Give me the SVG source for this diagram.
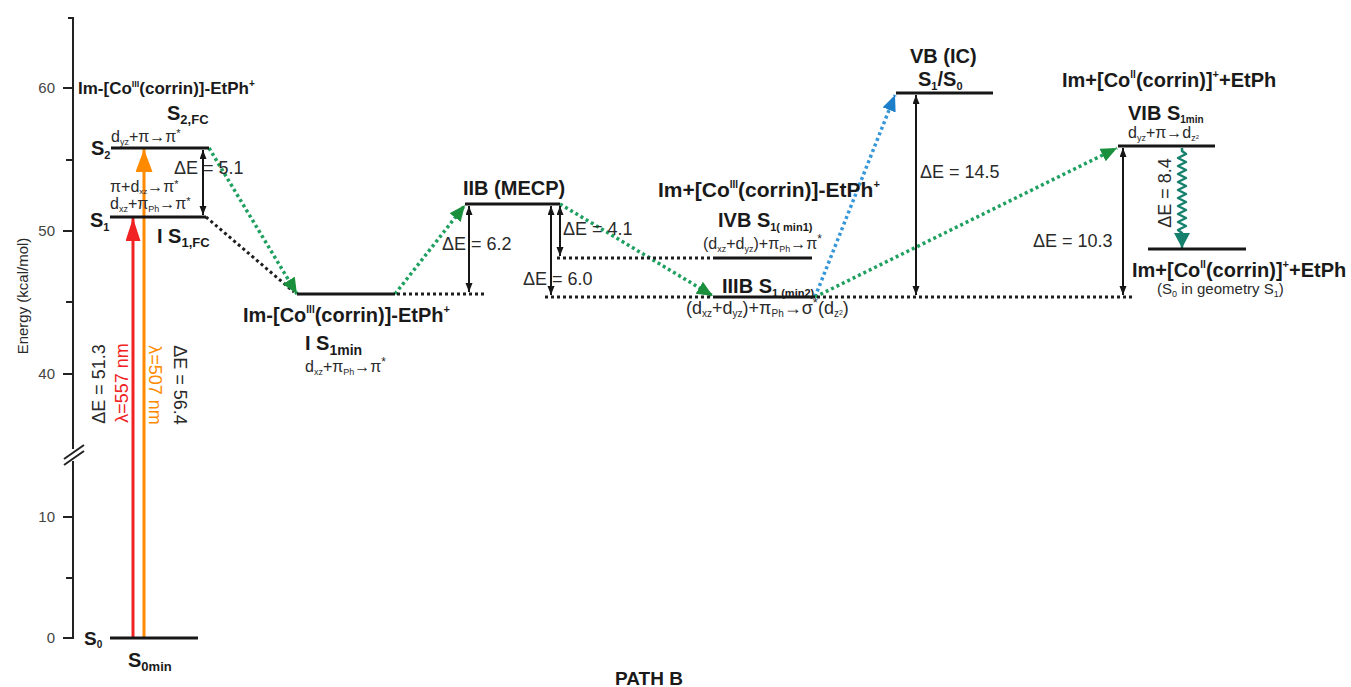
<svg xmlns="http://www.w3.org/2000/svg" width="1351" height="687" viewBox="0 0 1351 687">
  <style>
    .lvl { stroke: #161616; stroke-width: 3; fill: none; }
    .dot { stroke: #1e1e1e; stroke-width: 3; stroke-dasharray: 3 3; fill: none; }
    .gdot { stroke: #1fa060; stroke-width: 3.5; stroke-dasharray: 3 3; fill: none; marker-end: url(#mG); }
    .bdot { stroke: #3597d8; stroke-width: 3.5; stroke-dasharray: 3 3; fill: none; marker-end: url(#mB); }
    .dbl { stroke: #161616; stroke-width: 2; fill: none; marker-start: url(#mK); marker-end: url(#mK); }
    .ax { stroke: #222; stroke-width: 2; fill: none; }
    .b { font-family: "Liberation Sans", Arial, sans-serif; font-weight: bold; fill: #1a1a1a; }
    .r { font-family: "Liberation Sans", Arial, sans-serif; fill: #2a2a2a; }
    .tk { font-family: "Liberation Sans", Arial, sans-serif; fill: #444; font-size: 15px; text-anchor: end; }
  </style>
  <defs>
    <marker id="mK" markerUnits="userSpaceOnUse" markerWidth="10" markerHeight="8" refX="9" refY="3.5" orient="auto-start-reverse">
      <path d="M0,0 L9,3.5 L0,7 z" fill="#161616"/>
    </marker>
    <marker id="mG" markerUnits="userSpaceOnUse" markerWidth="17" markerHeight="15" refX="16" refY="7" orient="auto">
      <path d="M0,0 L16,7 L0,14 z" fill="#1a8f3c"/>
    </marker>
    <marker id="mB" markerUnits="userSpaceOnUse" markerWidth="17" markerHeight="15" refX="16" refY="7" orient="auto">
      <path d="M0,0 L16,7 L0,14 z" fill="#1d7fc9"/>
    </marker>
    <marker id="mR" markerUnits="userSpaceOnUse" markerWidth="24" markerHeight="16" refX="23" refY="7.5" orient="auto">
      <path d="M0,0 L23,7.5 L0,15 z" fill="#f02222"/>
    </marker>
    <marker id="mO" markerUnits="userSpaceOnUse" markerWidth="24" markerHeight="18" refX="23" refY="8.5" orient="auto">
      <path d="M0,0 L23,8.5 L0,17 z" fill="#ff8a00"/>
    </marker>
    <marker id="mT" markerUnits="userSpaceOnUse" markerWidth="16" markerHeight="17" refX="15" refY="8" orient="auto">
      <path d="M0,0 L15,8 L0,16 z" fill="#15806c"/>
    </marker>
  </defs>

  <!-- energy axis with break -->
  <g id="axis">
    <path class="ax" d="M68,18 H73 V449 M73,461 V638 H63"/>
    <path class="ax" d="M63,88 H73 M66,160 H73 M63,231 H73 M66,302 H73 M63,374 H73 M63,517 H73 M66,578 H73"/>
    <path class="ax" d="M64,459 L84,445 M64,465 L84,451"/>
    <text class="tk" x="55" y="93">60</text>
    <text class="tk" x="55" y="236">50</text>
    <text class="tk" x="55" y="379">40</text>
    <text class="tk" x="55" y="522">10</text>
    <text class="tk" x="55" y="643">0</text>
    <text class="r" font-size="15" text-anchor="middle" transform="translate(28,296) rotate(-90)">Energy (kcal/mol)</text>
  </g>

  <!-- connectors -->
  <g id="connectors">
    <line x1="133" y1="638" x2="133" y2="218" stroke="#f02222" stroke-width="3" marker-end="url(#mR)"/>
    <line x1="144" y1="638" x2="144" y2="149" stroke="#ff8a00" stroke-width="3" marker-end="url(#mO)"/>
    <line class="dot" x1="206" y1="217" x2="294" y2="292"/>
    <line class="gdot" x1="209" y1="148" x2="297" y2="294"/>
    <line class="gdot" x1="395" y1="294" x2="465" y2="205"/>
    <line class="gdot" x1="560" y1="204" x2="713" y2="296"/>
    <line class="bdot" x1="815" y1="297" x2="895" y2="95"/>
    <line class="gdot" x1="815" y1="297" x2="1117" y2="148"/>
    <path d="M1182,148 V151 L1186,154 L1178,158 L1186,162 L1178,166 L1186,170 L1178,174 L1186,178 L1178,182 L1186,186 L1178,190 L1186,194 L1178,198 L1186,202 L1178,206 L1186,210 L1178,214 L1186,218 L1178,222 L1186,226 L1178,230 L1182,233 V248" stroke="#15806c" stroke-width="2.5" fill="none" stroke-linejoin="round" marker-end="url(#mT)"/>
    <line class="dot" x1="397" y1="294" x2="487" y2="294"/>
    <line class="dot" x1="557" y1="258" x2="713" y2="258"/>
    <line class="dot" x1="545" y1="297" x2="713" y2="297"/>
    <line class="dot" x1="817" y1="297" x2="1132" y2="297"/>
    <line class="dbl" x1="203" y1="150" x2="203" y2="215"/>
    <line class="dbl" x1="469" y1="206" x2="469" y2="292"/>
    <line class="dbl" x1="551" y1="206" x2="551" y2="295"/>
    <line class="dbl" x1="560" y1="206" x2="560" y2="256"/>
    <line class="dbl" x1="916" y1="95" x2="916" y2="295"/>
    <line class="dbl" x1="1123" y1="148" x2="1123" y2="295"/>
  </g>

  <!-- Franck-Condon region -->
  <g id="S0min">
    <line class="lvl" x1="110" y1="638" x2="198" y2="638"/>
    <text class="b" x="84" y="645" font-size="19">S<tspan font-size="10" dy="3">0</tspan></text>
    <text class="b" x="128" y="667" font-size="20">S<tspan font-size="13" dy="4">0min</tspan></text>
  </g>
  <g id="excitation-labels">
    <text class="r" font-size="18" text-anchor="middle" transform="translate(105,384) rotate(-90)">ΔE = 51.3</text>
    <text class="r" font-size="18" text-anchor="middle" style="fill:#f02222" transform="translate(128,383) rotate(-90)">λ=557 nm</text>
    <text class="r" font-size="18" text-anchor="middle" style="fill:#ff8a00" transform="translate(149,385) rotate(90)">λ=507 nm</text>
    <text class="r" font-size="18" text-anchor="middle" transform="translate(174,385) rotate(90)">ΔE = 56.4</text>
  </g>
  <g id="S2FC">
    <line class="lvl" x1="111" y1="148" x2="209" y2="148"/>
    <text class="b" x="78" y="94" font-size="17">Im-[Co<tspan font-size="9" dy="-7">III</tspan><tspan dy="7">(corrin)]-EtPh</tspan><tspan font-size="10" dy="-7">+</tspan></text>
    <text class="b" x="167" y="120" font-size="20">S<tspan font-size="13" dy="4">2,FC</tspan></text>
    <text class="r" x="111" y="142" font-size="16">d<tspan font-size="9" dy="3">yz</tspan><tspan dy="-3">+π→π</tspan><tspan font-size="11" dy="-5">*</tspan></text>
    <text class="b" x="91" y="155" font-size="20">S<tspan font-size="11" dy="4">2</tspan></text>
    <text class="r" x="174" y="174" font-size="18">ΔE = 5.1</text>
  </g>
  <g id="S1FC">
    <line class="lvl" x1="110" y1="217" x2="206" y2="217"/>
    <text class="r" x="110" y="192" font-size="16">π+d<tspan font-size="8" dy="2">xz</tspan><tspan dy="-2">→π</tspan><tspan font-size="11" dy="-4">*</tspan></text>
    <text class="r" x="110" y="209" font-size="16">d<tspan font-size="9" dy="3">xz</tspan><tspan dy="-3">+π</tspan><tspan font-size="9" dy="3">Ph</tspan><tspan dy="-3">→π</tspan><tspan font-size="11" dy="-4">*</tspan></text>
    <text class="b" x="90" y="227" font-size="20">S<tspan font-size="11" dy="4">1</tspan></text>
    <text class="b" x="157" y="243" font-size="20">I S<tspan font-size="13" dy="4">1,FC</tspan></text>
  </g>

  <!-- path B intermediates -->
  <g id="IS1min">
    <line class="lvl" x1="297" y1="294" x2="395" y2="294"/>
    <text class="b" x="243" y="322" font-size="20">Im-[Co<tspan font-size="10" dy="-9">III</tspan><tspan dy="9">(corrin)]-EtPh</tspan><tspan font-size="11" dy="-9">+</tspan></text>
    <text class="b" x="305" y="350" font-size="20">I S<tspan font-size="14" dy="5">1min</tspan></text>
    <text class="r" x="305" y="372" font-size="16">d<tspan font-size="9" dy="3">xz</tspan><tspan dy="-3">+π</tspan><tspan font-size="9" dy="3">Ph</tspan><tspan dy="-3">→π</tspan><tspan font-size="12" dy="-6">*</tspan></text>
  </g>
  <g id="IIB">
    <line class="lvl" x1="465" y1="204" x2="560" y2="204"/>
    <text class="b" x="463" y="195" font-size="20">IIB (MECP)</text>
    <text class="r" x="442" y="250" font-size="18">ΔE = 6.2</text>
    <text class="r" x="563" y="235" font-size="18">ΔE = 4.1</text>
    <text class="r" x="523" y="285" font-size="18">ΔE = 6.0</text>
  </g>
  <g id="IVB">
    <line class="lvl" x1="713" y1="258" x2="812" y2="258"/>
    <text class="b" x="658" y="197" font-size="21">Im+[Co<tspan font-size="10" dy="-9">III</tspan><tspan dy="9">(corrin)]-EtPh</tspan><tspan font-size="11" dy="-9">+</tspan></text>
    <text class="b" x="718" y="227" font-size="20">IVB S<tspan font-size="11" dy="4">1( min1)</tspan></text>
    <text class="r" x="703" y="249" font-size="16">(d<tspan font-size="9" dy="3">xz</tspan><tspan dy="-3">+d</tspan><tspan font-size="9" dy="3">yz</tspan><tspan dy="-3">)+π</tspan><tspan font-size="9" dy="3">Ph</tspan><tspan dy="-3">→π</tspan><tspan font-size="12" dy="-6">*</tspan></text>
  </g>
  <g id="IIIB">
    <line class="lvl" x1="713" y1="297" x2="815" y2="297"/>
    <text class="b" x="722" y="293" font-size="20">IIIB S<tspan font-size="11" dy="4">1 (min2)</tspan></text>
    <text class="r" x="686" y="314" font-size="18">(d<tspan font-size="10" dy="3">xz</tspan><tspan dy="-3">+d</tspan><tspan font-size="10" dy="3">yz</tspan><tspan dy="-3">)+π</tspan><tspan font-size="10" dy="3">Ph</tspan><tspan dy="-3">→σ</tspan><tspan font-size="13" dy="-7">*</tspan><tspan dy="7">(d</tspan><tspan font-size="10" dy="3">z</tspan><tspan font-size="7" dy="-2">2</tspan><tspan dy="-1">)</tspan></text>
  </g>
  <g id="VB">
    <line class="lvl" x1="896" y1="93" x2="993" y2="93"/>
    <text class="b" x="910" y="63" font-size="20">VB (IC)</text>
    <text class="b" x="918" y="86" font-size="20">S<tspan font-size="11" dy="4">1</tspan><tspan dy="-4">/S</tspan><tspan font-size="11" dy="4">0</tspan></text>
    <text class="r" x="920" y="178" font-size="18">ΔE = 14.5</text>
  </g>
  <g id="VIB">
    <line class="lvl" x1="1118" y1="146" x2="1215" y2="146"/>
    <text class="b" x="1062" y="87" font-size="20">Im+[Co<tspan font-size="10" dy="-9">II</tspan><tspan dy="9">(corrin)]</tspan><tspan font-size="11" dy="-9">+</tspan><tspan dy="9">+EtPh</tspan></text>
    <text class="b" x="1128" y="120" font-size="20">VIB S<tspan font-size="10" dy="3">1min</tspan></text>
    <text class="r" x="1128" y="138" font-size="16">d<tspan font-size="9" dy="3">yz</tspan><tspan dy="-3">+π→d</tspan><tspan font-size="9" dy="3">z</tspan><tspan font-size="6" dy="-2">2</tspan></text>
    <text class="r" x="1033" y="247" font-size="18">ΔE = 10.3</text>
    <text class="r" font-size="18" text-anchor="middle" transform="translate(1171,193) rotate(-90)">ΔE = 8.4</text>
  </g>
  <g id="S0-geometry-S1">
    <line class="lvl" x1="1148" y1="249" x2="1246" y2="249"/>
    <text class="b" x="1132" y="277" font-size="20">Im+[Co<tspan font-size="10" dy="-9">II</tspan><tspan dy="9">(corrin)]</tspan><tspan font-size="11" dy="-9">+</tspan><tspan dy="9">+EtPh</tspan></text>
    <text class="r" x="1157" y="294" font-size="15">(S<tspan font-size="9" dy="3">0</tspan><tspan dy="-3"> in geometry S</tspan><tspan font-size="9" dy="3">1</tspan><tspan dy="-3">)</tspan></text>
  </g>

  <text class="b" x="615" y="685" font-size="19">PATH B</text>
</svg>
